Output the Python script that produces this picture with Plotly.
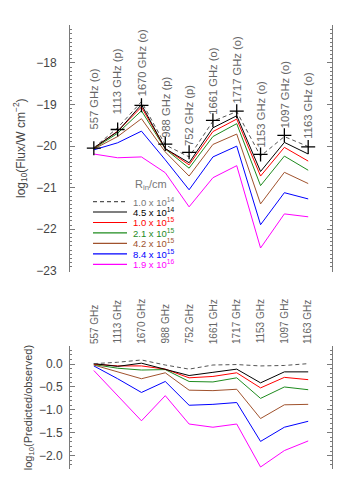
import plotly.graph_objects as go

# lines (transitions) and their label tags
freqs = ["557", "1113", "1670", "988", "752", "1661", "1717", "1153", "1097", "1163"]
kinds = ["o", "p", "o", "p", "p", "o", "o", "o", "o", "o"]

# observed fluxes, log10(W cm^-2)
observed = [-20.05, -19.60, -19.02, -19.95, -20.15, -19.38, -19.16, -20.20, -19.74, -20.02]

# model fluxes for each inner radius
flux_1p0e14 = [-20.04, -19.56, -18.93, -19.97, -20.26, -19.40, -19.17, -20.24, -19.77, -20.01]
flux_4p5e14 = [-20.04, -19.65, -19.00, -20.06, -20.40, -19.56, -19.27, -20.61, -19.91, -20.19]
flux_1p0e15 = [-20.05, -19.64, -19.06, -20.06, -20.45, -19.65, -19.35, -20.72, -20.03, -20.36]
flux_2p1e15 = [-20.06, -19.69, -19.15, -20.07, -20.53, -19.77, -19.46, -20.95, -20.24, -20.58]
flux_4p2e15 = [-20.07, -19.77, -19.34, -20.14, -20.72, -19.96, -19.71, -21.39, -20.63, -20.90]
flux_8p4e15 = [-20.09, -19.92, -19.64, -20.33, -21.05, -20.26, -20.00, -21.89, -21.12, -21.27]
flux_1p9e16 = [-20.19, -20.28, -20.26, -20.64, -21.46, -20.76, -20.47, -22.45, -21.63, -21.70]

# log10(predicted/observed)
ratio_1p0e14 = [0.01, 0.04, 0.09, -0.02, -0.11, -0.02, -0.01, -0.04, -0.03, 0.01]
ratio_4p5e14 = [0.01, -0.05, 0.02, -0.11, -0.25, -0.18, -0.11, -0.41, -0.17, -0.17]
ratio_1p0e15 = [0.00, -0.04, -0.04, -0.11, -0.30, -0.27, -0.19, -0.52, -0.29, -0.34]
ratio_2p1e15 = [-0.01, -0.09, -0.13, -0.12, -0.38, -0.39, -0.30, -0.75, -0.50, -0.56]
ratio_4p2e15 = [-0.02, -0.17, -0.32, -0.19, -0.57, -0.58, -0.55, -1.19, -0.89, -0.88]
ratio_8p4e15 = [-0.04, -0.32, -0.62, -0.38, -0.90, -0.88, -0.84, -1.69, -1.38, -1.25]
ratio_1p9e16 = [-0.14, -0.68, -1.24, -0.69, -1.31, -1.38, -1.31, -2.25, -1.89, -1.68]

r_in_labels = ["1.0 x 10<sup>14</sup>", "4.5 x 10<sup>14</sup>", "1.0 x 10<sup>15</sup>",
               "2.1 x 10<sup>15</sup>", "4.2 x 10<sup>15</sup>", "8.4 x 10<sup>15</sup>",
               "1.9 x 10<sup>16</sup>"]

model_flux = [flux_1p0e14, flux_4p5e14, flux_1p0e15, flux_2p1e15, flux_4p2e15, flux_8p4e15, flux_1p9e16]
model_ratio = [ratio_1p0e14, ratio_4p5e14, ratio_1p0e15, ratio_2p1e15, ratio_4p2e15, ratio_8p4e15, ratio_1p9e16]

line_colors = ["#555555", "#000000", "#FF0000", "#1E8B1E", "#A0522D", "#0000FF", "#FF00FF"]
text_colors = ["#777777", "#000000", "#FF0000", "#1E8B1E", "#A0522D", "#0000FF", "#FF00FF"]
gray = "#7a7a7a"
txt = "#666666"
FONT = "Liberation Sans"

# extra lift (px) of each top label above its observed point
label_lift = [17, 13, 7, 4, 4, 4, 6, 5, 5, 6]

xs = list(range(len(freqs)))
fig = go.Figure()

# upper panel: fluxes
for k in range(len(model_flux) - 1, -1, -1):
    fig.add_trace(go.Scatter(
        x=xs, y=model_flux[k], mode="lines",
        line=dict(color=line_colors[k], width=1, dash="4px,3px" if k == 0 else "solid"),
        xaxis="x", yaxis="y", showlegend=False,
    ))
fig.add_trace(go.Scatter(
    x=xs, y=observed, mode="markers",
    marker=dict(symbol="cross-thin-open", size=10, color="black",
                line=dict(color="black", width=1.3)),
    xaxis="x", yaxis="y", showlegend=False,
))

# lower panel: ratios
for k in range(len(model_ratio) - 1, -1, -1):
    fig.add_trace(go.Scatter(
        x=xs, y=model_ratio[k], mode="lines",
        line=dict(color=line_colors[k], width=1, dash="4px,3px" if k == 0 else "solid"),
        xaxis="x2", yaxis="y2", showlegend=False,
    ))

annotations = []
for i, f in enumerate(freqs):
    annotations.append(dict(
        x=i, y=observed[i], xref="x", yref="y", text=f"{f} GHz ({kinds[i]})",
        textangle=-90, showarrow=False, xanchor="center", yanchor="bottom",
        yshift=label_lift[i], font=dict(family=FONT, size=11.2, color=txt),
    ))
    annotations.append(dict(
        x=i, y=0.3, xref="x2", yref="paper", text=f"{f} GHz",
        textangle=-90, showarrow=False, xanchor="center", yanchor="bottom",
        font=dict(family=FONT, size=10, color=txt),
    ))

# hand-drawn legend block
shapes = []
annotations.append(dict(
    x=133 / 350, y=1 - 187 / 500, xref="paper", yref="paper",
    text="R<sub>in</sub>/cm", showarrow=False, xanchor="left", yanchor="middle",
    font=dict(family=FONT, size=11, color="#777777"),
))
for k, lab in enumerate(r_in_labels):
    yy = 1 - (204 + 10.6 * k) / 500
    shapes.append(dict(
        type="line", xref="paper", yref="paper", x0=93 / 350, x1=127 / 350, y0=yy, y1=yy,
        line=dict(color=line_colors[k], width=1.2, dash="4px,3px" if k == 0 else "solid"),
    ))
    annotations.append(dict(
        x=131 / 350, y=yy, xref="paper", yref="paper", text=lab, showarrow=False,
        xanchor="left", yanchor="middle",
        font=dict(family=FONT, size=9.5, color=text_colors[k]),
    ))

yaxis_common = dict(
    ticks="inside", ticklen=5, tickcolor=gray, tickwidth=1,
    showline=True, linecolor=gray, linewidth=1, mirror="ticks",
    showgrid=False, zeroline=False,
    tickfont=dict(family=FONT, size=12, color="#444444"),
)

fig.update_layout(
    width=350, height=500,
    margin=dict(l=0, r=0, t=0, b=0),
    paper_bgcolor="white", plot_bgcolor="white",
    showlegend=False,
    xaxis=dict(domain=[0.2, 0.9486], range=[-1, 10], visible=False, anchor="y"),
    xaxis2=dict(domain=[0.2, 0.9486], range=[-1, 10], visible=False, anchor="y2"),
    yaxis=dict(
        domain=[0.45, 0.95], range=[-23.02, -17.08], tickvals=[-23, -22, -21, -20, -19, -18],
        anchor="x",
        minor=dict(dtick=0.1, ticks="inside", ticklen=2, tickcolor=gray),
        ticklabelstandoff=10,
        title=dict(text="log<sub>10</sub>(Flux/W cm<sup>\u22122</sup>)", standoff=8,
                   font=dict(family=FONT, size=12, color="#444444")),
        **yaxis_common,
    ),
    yaxis2=dict(
        domain=[0.05, 0.3], range=[-2.3, 0.4], dtick=0.5, tick0=0, tickformat=".1f", anchor="x2",
        minor=dict(dtick=0.1, ticks="inside", ticklen=2, tickcolor=gray),
        ticklabelstandoff=4,
        title=dict(text="log<sub>10</sub>(Predicted/observed)", standoff=4,
                   font=dict(family=FONT, size=11, color="#444444")),
        **yaxis_common,
    ),
    annotations=annotations,
    shapes=shapes,
)

fig.write_html("out.html", config={"displayModeBar": False},
               post_script="document.body.style.margin='0';")
